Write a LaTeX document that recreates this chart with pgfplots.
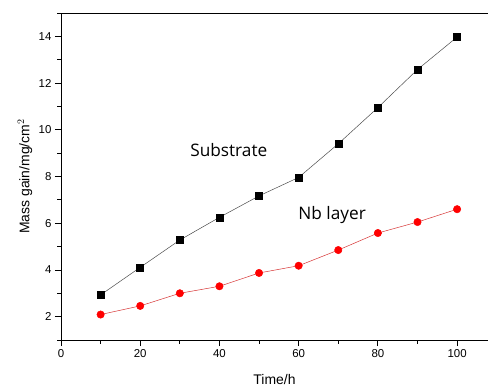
\documentclass[border=0pt]{standalone}
\usepackage{fontspec}
\setmainfont{Liberation Sans}
\newfontfamily\annfont{Open Sans}
\usepackage{pgfplots}
\pgfplotsset{compat=1.18}
\begin{document}
\begin{tikzpicture}[x=1bp,y=1bp]
\useasboundingbox (-61bp,-50bp) rectangle (427bp,340bp);
\begin{axis}[
  at={(0,0)}, anchor=origin,
  scale only axis, width=427bp, height=327bp,
  xmin=0, xmax=107.8, ymin=1, ymax=15,
  axis x line*=bottom, axis y line*=left,
  axis line style={line width=0.9pt, -},
  xtick={0,20,...,100}, minor xtick={10,30,...,90},
  ytick={2,4,...,14}, minor ytick={1,3,...,15},
  tick align=outside,
  major tick length=6bp, minor tick length=3.5bp,
  tick style={line width=0.8pt, black},
  /pgf/number format/assume math mode=true,
  ticklabel style={font=\fontsize{11.5}{13}\selectfont},
  label style={font=\fontsize{14}{16}\selectfont},
  xlabel={Time/h}, ylabel={Mass gain/mg/cm$^{2}$},
  xlabel style={at={(axis description cs:0.5,0)}, anchor=center, yshift=-40bp},
  ylabel style={at={(axis description cs:0,0.5)}, anchor=center, yshift=36bp},
  clip=false,
]
\addplot[black!70, line width=0.5pt, mark=square*, mark size=3.5bp,
  mark options={fill=black, draw=black}] coordinates {
  (10,2.93) (20,4.11) (30,5.28) (40,6.25) (50,7.17)
  (60,7.96) (70,9.40) (80,10.95) (90,12.58) (100,13.97)};
\addplot[red!80!black!80, line width=0.5pt, mark=*, mark size=3.7bp,
  mark options={fill=red, draw=red}] coordinates {
  (10,2.09) (20,2.46) (30,3.00) (40,3.30) (50,3.87)
  (60,4.18) (70,4.85) (80,5.58) (90,6.05) (100,6.60)};
\draw[line width=0.9pt] (rel axis cs:0,1) -- (rel axis cs:1.2,1);
\node[anchor=base west, inner sep=0pt, font=\annfont\fontsize{17.3}{19}\selectfont] at (axis cs:32.6,8.87) {Substrate};
\node[anchor=base west, inner sep=0pt, font=\annfont\fontsize{17.3}{19}\selectfont] at (axis cs:59.9,6.16) {Nb layer};
\end{axis}
\end{tikzpicture}
\end{document}
